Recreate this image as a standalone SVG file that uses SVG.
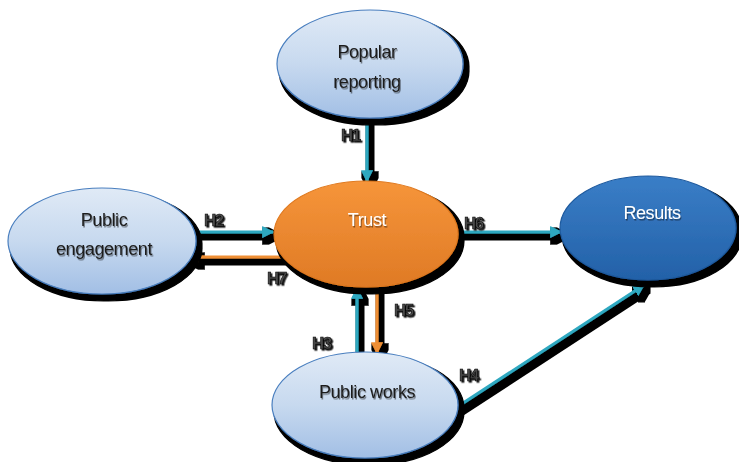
<svg xmlns="http://www.w3.org/2000/svg" width="739" height="462" viewBox="0 0 739 462">
<defs>
<linearGradient id="gLight" x1="0" y1="0" x2="0" y2="1">
<stop offset="0" stop-color="#e0eaf6"/><stop offset="0.5" stop-color="#c7d9ef"/><stop offset="1" stop-color="#a2bfe5"/>
</linearGradient>
<linearGradient id="gOrange" x1="0" y1="0" x2="0" y2="1">
<stop offset="0" stop-color="#f6953a"/><stop offset="1" stop-color="#df7a25"/>
</linearGradient>
<linearGradient id="gBlue" x1="0" y1="0" x2="0" y2="1">
<stop offset="0" stop-color="#3a7ec7"/><stop offset="1" stop-color="#2361a8"/>
</linearGradient>
<filter id="nodeShadow" filterUnits="userSpaceOnUse" x="0" y="0" width="739" height="462">
<feMorphology in="SourceAlpha" operator="dilate" radius="1.5" result="d"/>
<feOffset in="d" dx="4" dy="5" result="o"/>
<feGaussianBlur in="o" stdDeviation="0.4" result="b"/>
<feMerge><feMergeNode in="b"/><feMergeNode in="SourceGraphic"/></feMerge>
</filter>
<filter id="lineShadow" filterUnits="userSpaceOnUse" x="0" y="0" width="739" height="462">
<feMorphology in="SourceAlpha" operator="dilate" radius="2.5" result="d"/>
<feOffset in="d" dx="3" dy="4" result="o"/>
<feGaussianBlur in="o" stdDeviation="0.4" result="b"/>
<feMerge><feMergeNode in="b"/><feMergeNode in="SourceGraphic"/></feMerge>
</filter>
<filter id="txtShadow" filterUnits="userSpaceOnUse" x="0" y="0" width="739" height="462">
<feDropShadow dx="1" dy="1.5" stdDeviation="0.5" flood-color="#000" flood-opacity="0.45"/>
</filter>
<filter id="hShadow" filterUnits="userSpaceOnUse" x="0" y="0" width="739" height="462">
<feDropShadow dx="1.5" dy="1.5" stdDeviation="0.3" flood-color="#000" flood-opacity="0.9"/>
</filter>
<marker id="arrT" viewBox="0 0 10 10" refX="9" refY="5" markerWidth="4" markerHeight="4" orient="auto" markerUnits="strokeWidth">
<path d="M0,0 L10,5 L0,10 Z" fill="#2fa8c0"/>
</marker>
<marker id="arrO" viewBox="0 0 10 10" refX="9" refY="5" markerWidth="4" markerHeight="4" orient="auto" markerUnits="strokeWidth">
<path d="M0,0 L10,5 L0,10 Z" fill="#ef8f36"/>
</marker>
</defs>
<style>
.ne{stroke-width:1.2;filter:url(#nodeShadow)}
.lbl{font-family:"Liberation Sans",Arial,sans-serif;font-size:18px;letter-spacing:-0.4px;text-anchor:middle;filter:url(#txtShadow)}
.dark{fill:#1e1e1e}
.white{fill:#ffffff}
.h{font-family:"Liberation Sans",Arial,sans-serif;font-size:17px;font-weight:bold;fill:#4a4a4a;stroke:#000;stroke-width:0.6;letter-spacing:-1.5px;filter:url(#hShadow)}
.c{fill:none;stroke-width:3;filter:url(#lineShadow)}
.t{stroke:#2fa8c0;marker-end:url(#arrT)}
.o{stroke:#ef8f36;marker-end:url(#arrO)}
</style>
<rect width="739" height="462" fill="#ffffff"/>
<g id="connectors">
<line class="c t" x1="367" y1="118" x2="367" y2="181"/>
<line class="c t" x1="197" y1="232" x2="273" y2="232"/>
<line class="c o" x1="292" y1="257" x2="188" y2="257"/>
<line class="c t" x1="458" y1="232" x2="561" y2="232"/>
<line class="c t" x1="357" y1="352" x2="357" y2="288"/>
<line class="c o" x1="377" y1="287" x2="377" y2="353"/>
<line class="c t" x1="457" y1="407" x2="644" y2="285"/>
</g>
<g id="node-popular">
<ellipse class="ne" cx="370" cy="64" rx="93" ry="54" fill="url(#gLight)" stroke="#4a7fbf"/>
<text class="lbl dark" x="367" y="58">Popular</text>
<text class="lbl dark" x="367" y="88">reporting</text>
</g>
<g id="node-engagement">
<ellipse class="ne" cx="102" cy="241" rx="94" ry="53" fill="url(#gLight)" stroke="#4a7fbf"/>
<text class="lbl dark" x="104" y="226">Public</text>
<text class="lbl dark" x="104" y="255">engagement</text>
</g>
<g id="node-trust">
<ellipse class="ne" cx="366" cy="234" rx="92" ry="53" fill="url(#gOrange)" stroke="#e07a20"/>
<text class="lbl white" x="367" y="226">Trust</text>
</g>
<g id="node-results">
<ellipse class="ne" cx="648" cy="228" rx="88" ry="52" fill="url(#gBlue)" stroke="#1f5a9e"/>
<text class="lbl white" x="652" y="219">Results</text>
</g>
<g id="node-works">
<ellipse class="ne" cx="365" cy="405" rx="93" ry="53" fill="url(#gLight)" stroke="#4a7fbf"/>
<text class="lbl dark" x="367" y="398">Public works</text>
</g>
<g id="labels">
<text class="h" x="341" y="141">H1</text>
<text class="h" x="204" y="226">H2</text>
<text class="h" x="267" y="284">H7</text>
<text class="h" x="464" y="229">H6</text>
<text class="h" x="394" y="316">H5</text>
<text class="h" x="312" y="349">H3</text>
<text class="h" x="459" y="381">H4</text>
</g>
</svg>
